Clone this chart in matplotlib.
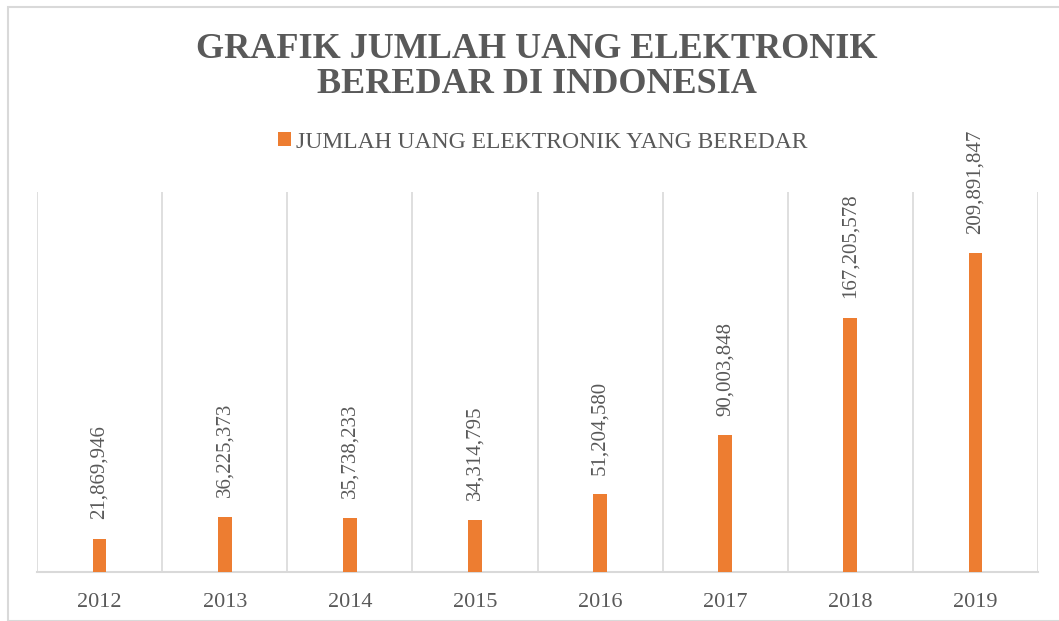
import matplotlib
matplotlib.use("Agg")
import matplotlib.pyplot as plt
from matplotlib.patches import Rectangle

years = ["2012", "2013", "2014", "2015", "2016", "2017", "2018", "2019"]
values = [21869946, 36225373, 35738233, 34314795, 51204580, 90003848, 167205578, 209891847]
series_name = "JUMLAH UANG ELEKTRONIK YANG BEREDAR"
title = "GRAFIK JUMLAH UANG ELEKTRONIK\nBEREDAR DI INDONESIA"

bar_color = "#ED7D31"
text_color = "#595959"
grid_color = "#D9D9D9"

plt.rcParams["font.family"] = ["Liberation Serif", "DejaVu Serif"]

fig = plt.figure(figsize=(10.59, 6.21), dpi=100)
W, H = 1059, 621
ax = fig.add_axes([37 / W, 1 - 572 / H, (1038 - 37) / W, (572 - 192) / H])

x = list(range(len(years)))
ax.bar(x, values, width=0.11, color=bar_color, label=series_name, zorder=3)
ax.set_xlim(-0.5, len(years) - 0.5)
ax.set_ylim(0, 250_000_000)

for xi in [i - 0.5 for i in range(len(years) + 1)]:
    ax.axvline(xi, color=grid_color, lw=1.2, zorder=1)

for s in ["top", "right", "left"]:
    ax.spines[s].set_visible(False)
ax.spines["bottom"].set_color(grid_color)
ax.spines["bottom"].set_linewidth(1.5)
ax.set_yticks([])
ax.set_xticks(x)
ax.set_xticklabels(years, fontsize=16, color=text_color)
ax.tick_params(axis="x", length=0, pad=15)

for xi, v in zip(x, values):
    ax.annotate(f"{v:,}", (xi, v), xytext=(0, 14), textcoords="offset points",
                rotation=90, ha="center", va="bottom", fontsize=15, color=text_color)

fig.text(537 / W, 1 - 67 / H, title, ha="center", va="center", fontsize=26,
         fontweight="bold", color=text_color, linespacing=1.1)

leg = fig.legend(loc="center", bbox_to_anchor=(543 / W, 1 - 142 / H), frameon=False,
                 fontsize=17, handlelength=0.55, handleheight=0.55, handletextpad=0.2)
for t in leg.get_texts():
    t.set_color(text_color)

fig.patches.append(Rectangle((8 / W, 0), 1.2, 1 - 7 / H, transform=fig.transFigure,
                             fill=False, edgecolor=grid_color, lw=1.5))

fig.savefig("out.png", dpi=100)
